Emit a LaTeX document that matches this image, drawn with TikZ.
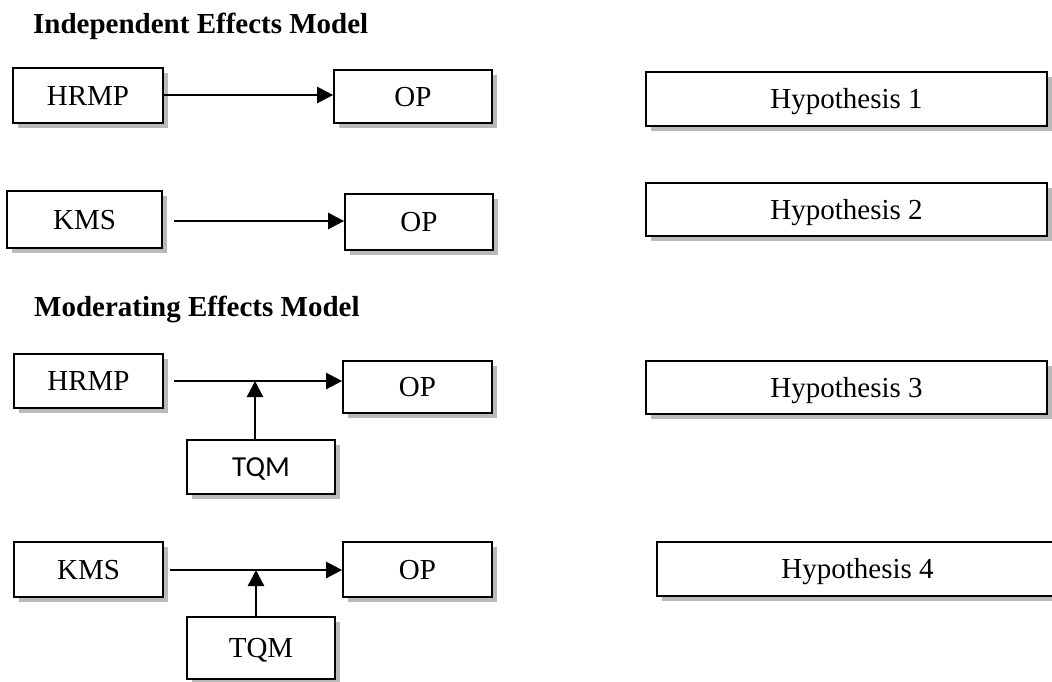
\documentclass[tikz,border=0pt]{standalone}
\usepackage{fontspec}
\setmainfont{Liberation Serif}
\newfontfamily\calibri{Carlito}
\usetikzlibrary{shadows,arrows.meta}
\tikzset{
  bloc/.style={draw,line width=1.7pt,fill=white,rectangle,inner sep=0pt,
    text height=19pt,text depth=0pt,
    font=\fontsize{29}{34}\selectfont,
    drop shadow={shadow xshift=5pt,shadow yshift=-5pt,fill=black!27,opacity=1}},
  fleche/.style={line width=2.4pt,-{Triangle[length=16pt,width=16pt]}},
  titre/.style={anchor=base west,inner sep=0pt,font=\fontsize{29}{34}\selectfont\bfseries}
}
\begin{document}
\begin{tikzpicture}[x=1pt,y=-1pt]  % ------ Independent Effects Model --------------
    \useasboundingbox (0,0) rectangle (1052,681);
    \clip (0,0) rectangle (1052,681);
    \node[titre] (t1) at (33,33) {Independent Effects Model};

    \node[bloc,minimum width=150pt,minimum height=55pt] (hrmpA) at (88,95.5) {HRMP};
    \node[bloc,minimum width=158pt,minimum height=53pt] (opA) at (413,96.5) {OP};
    \node[bloc,minimum width=401pt,minimum height=54pt] (hypA) at (846.5,99) {Hypothesis 1};
    \draw[fleche] (hrmpA.east |- 0,95) -- (opA.west |- 0,95);

    \node[bloc,minimum width=155pt,minimum height=57pt] (kmsA) at (84.5,219.5) {KMS};
    \node[bloc,minimum width=148pt,minimum height=56pt] (opB) at (419,222) {OP};
    \node[bloc,minimum width=401pt,minimum height=53pt] (hypB) at (846.5,209.5) {Hypothesis 2};
    \draw[fleche,shorten <=11pt] (kmsA.east |- 0,221) -- (opB.west |- 0,221);

    % ------ Moderating Effects Model --------------
    \node[titre] (t2) at (34,316) {Moderating Effects Model};

    \node[bloc,minimum width=149pt,minimum height=54pt] (hrmpB) at (88.5,381) {HRMP};
    \node[bloc,minimum width=149pt,minimum height=52pt] (opC) at (417.5,387) {OP};
    \node[bloc,minimum width=148pt,minimum height=54pt,font=\fontsize{29}{34}\calibri] (tqmA) at (261,467) {TQM};
    \node[bloc,minimum width=401pt,minimum height=53pt] (hypC) at (846.5,387.5) {Hypothesis 3};
    \coordinate (mA) at (255,381);
    \draw[fleche,shorten <=10pt] (hrmpB.east |- mA) -- (opC.west |- mA);
    \draw[fleche] (tqmA.north -| mA) -- (mA);

    \node[bloc,minimum width=149pt,minimum height=55pt] (kmsB) at (88.5,569.5) {KMS};
    \node[bloc,minimum width=149pt,minimum height=55pt] (opD) at (417.5,569.5) {OP};
    \node[bloc,minimum width=148pt,minimum height=62pt] (tqmB) at (261,648) {TQM};
    \node[bloc,minimum width=401pt,minimum height=54pt] (hypD) at (857.5,569) {Hypothesis 4};
    \coordinate (mB) at (256,570);
    \draw[fleche,shorten <=6pt] (kmsB.east |- mB) -- (opD.west |- mB);
    \draw[fleche] (tqmB.north -| mB) -- (mB);
\end{tikzpicture}
\end{document}
